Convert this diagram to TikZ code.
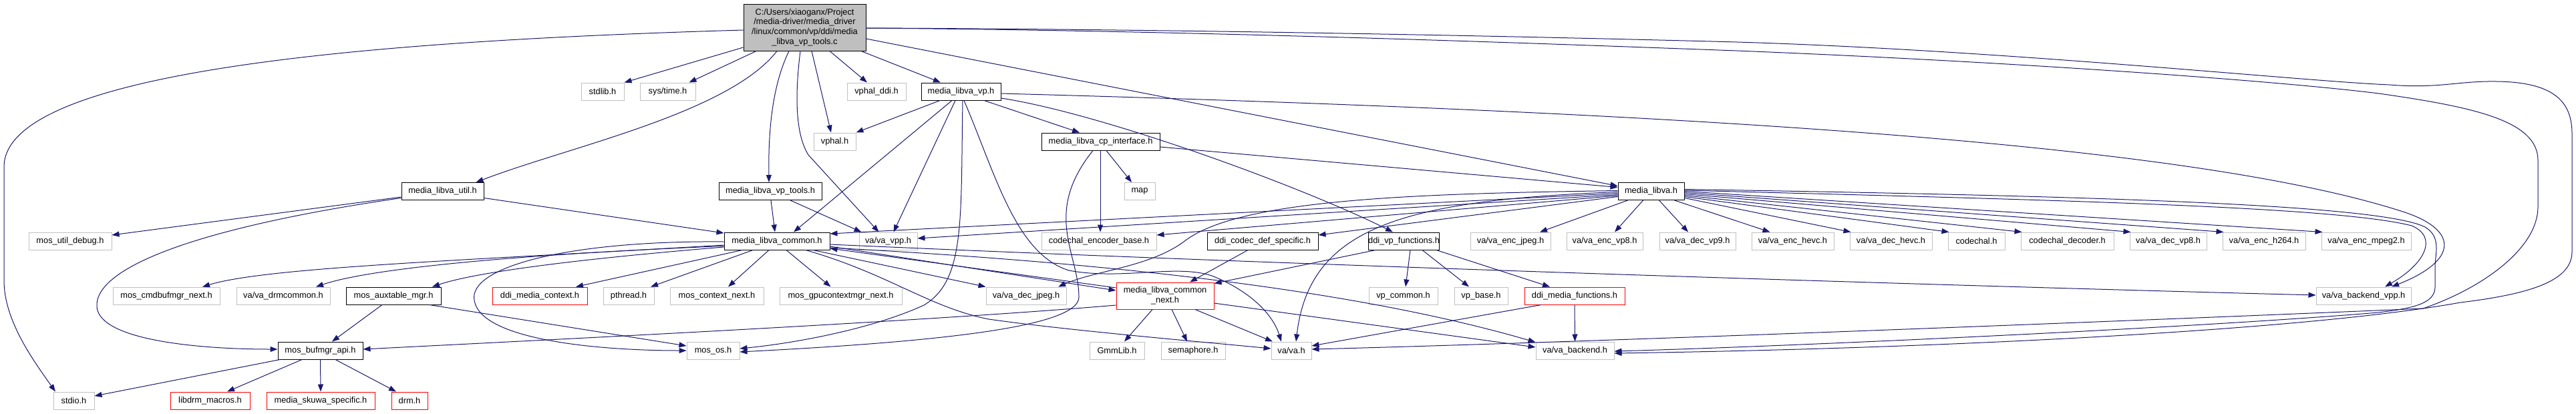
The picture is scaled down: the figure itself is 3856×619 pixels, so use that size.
\documentclass[tikz,border=0pt]{standalone}
\usepackage{fontspec}
\setmainfont{Liberation Sans}
\usetikzlibrary{arrows.meta}
\definecolor{edgecol}{HTML}{191970}
\definecolor{extgray}{HTML}{C0C0C0}
\definecolor{maingray}{HTML}{BFBFBF}
\begin{document}
\begin{tikzpicture}[x=1pt,y=-1pt,
  box/.style={rectangle, inner sep=0pt, minimum height=26pt, fill=white, line width=1pt, font=\fontsize{12.8}{14.8}\selectfont, align=center},
  ext/.style={box, draw=extgray},
  doc/.style={box, draw=black},
  redb/.style={box, draw=red},
  mainnode/.style={box, draw=black, fill=maingray, minimum height=70pt},
  edge/.style={draw=edgecol, line width=1pt, -{Triangle[length=11pt,width=8pt]}}]
\useasboundingbox (0,0) rectangle (3856,619);
% nodes
\node[mainnode, minimum width=183pt] (main) at (1204.5,41) {C:/Users/xiaoganx/Project\\/media-driver/media\_driver\\/linux/common/vp/ddi/media\\\_libva\_vp\_tools.c};
\node[ext, minimum width=64pt] (stdlib) at (902,137) {stdlib.h};
\node[ext, minimum width=83pt] (systime) at (999.5,137) {sys/time.h};
\node[ext, minimum width=88pt] (vphalddi) at (1312,137) {vphal\_ddi.h};
\node[doc, minimum width=119pt] (libvavp) at (1438.5,137) {media\_libva\_vp.h};
\node[ext, minimum width=63pt] (vphal) at (1249.5,212) {vphal.h};
\node[doc, minimum width=177pt] (cpif) at (1647.5,212) {media\_libva\_cp\_interface.h};
\node[doc, minimum width=123pt] (util) at (662.5,286.5) {media\_libva\_util.h};
\node[doc, minimum width=154pt] (vptoolsh) at (1153,286.5) {media\_libva\_vp\_tools.h};
\node[ext, minimum width=46pt] (map) at (1706,286.5) {map};
\node[doc, minimum width=99pt] (libva) at (2471.5,286.5) {media\_libva.h};
\node[ext, minimum width=124pt] (utildebug) at (105,361) {mos\_util\_debug.h};
\node[doc, minimum width=158pt] (common) at (1163,361) {media\_libva\_common.h};
\node[ext, minimum width=87pt] (vavpp) at (1329.5,361) {va/va\_vpp.h};
\node[ext, minimum width=172pt] (encbase) at (1645,361) {codechal\_encoder\_base.h};
\node[doc, minimum width=166pt] (codecdef) at (1890,361) {ddi\_codec\_def\_specific.h};
\node[doc, minimum width=105pt] (ddivp) at (2101.5,361) {ddi\_vp\_functions.h};
\node[ext, minimum width=120pt] (encjpeg) at (2261,361) {va/va\_enc\_jpeg.h};
\node[ext, minimum width=114pt] (encvp8) at (2402,361) {va/va\_enc\_vp8.h};
\node[ext, minimum width=114pt] (decvp9) at (2541,361) {va/va\_dec\_vp9.h};
\node[ext, minimum width=123pt] (enchevc) at (2683.5,361) {va/va\_enc\_hevc.h};
\node[ext, minimum width=123pt] (dechevc) at (2830.5,361) {va/va\_dec\_hevc.h};
\node[ext, minimum width=85pt] (codechal) at (2958.5,361) {codechal.h};
\node[ext, minimum width=139pt] (codecdec) at (3094.5,361) {codechal\_decoder.h};
\node[ext, minimum width=115pt] (decvp8) at (3245.5,361) {va/va\_dec\_vp8.h};
\node[ext, minimum width=124pt] (ench264) at (3389,361) {va/va\_enc\_h264.h};
\node[ext, minimum width=134pt] (encmpeg2) at (3542,361) {va/va\_enc\_mpeg2.h};
\node[ext, minimum width=160pt] (cmdbuf) at (249,443) {mos\_cmdbufmgr\_next.h};
\node[ext, minimum width=140pt] (drmcommon) at (424,443) {va/va\_drmcommon.h};
\node[doc, minimum width=142pt] (auxtable) at (589,443) {mos\_auxtable\_mgr.h};
\node[redb, minimum width=142pt] (mediactx) at (808,443) {ddi\_media\_context.h};
\node[ext, minimum width=76pt] (pthread) at (941,443) {pthread.h};
\node[ext, minimum width=140pt] (ctxnext) at (1073,443) {mos\_context\_next.h};
\node[ext, minimum width=183pt] (gpuctx) at (1258.5,443) {mos\_gpucontextmgr\_next.h};
\node[ext, minimum width=120pt] (decjpeg) at (1536,443) {va/va\_dec\_jpeg.h};
\node[redb, minimum width=146pt, minimum height=40pt] (commonnext) at (1744,443) {media\_libva\_common\\\_next.h};
\node[ext, minimum width=103pt] (vpcommon) at (2100.5,443) {vp\_common.h};
\node[ext, minimum width=80pt] (vpbase) at (2217,443) {vp\_base.h};
\node[redb, minimum width=150pt] (mediafunc) at (2357,443) {ddi\_media\_functions.h};
\node[ext, minimum width=142pt] (backendvpp) at (3538,443) {va/va\_backend\_vpp.h};
\node[doc, minimum width=127pt] (bufmgr) at (479.5,525) {mos\_bufmgr\_api.h};
\node[ext, minimum width=79pt] (mosos) at (1067.5,525) {mos\_os.h};
\node[ext, minimum width=82pt] (gmmlib) at (1672,525) {GmmLib.h};
\node[ext, minimum width=96pt] (semaphore) at (1786,525) {semaphore.h};
\node[ext, minimum width=60pt] (vah) at (1933,525) {va/va.h};
\node[ext, minimum width=117pt] (backend) at (2357.5,525) {va/va\_backend.h};
\node[ext, minimum width=61pt] (stdio) at (110.5,600) {stdio.h};
\node[redb, minimum width=119pt] (libdrm) at (314.5,600) {libdrm\_macros.h};
\node[redb, minimum width=162pt] (skuwa) at (480,600) {media\_skuwa\_specific.h};
\node[redb, minimum width=54pt] (drm) at (613,600) {drm.h};
% main edges
\draw[edge] ([yshift=-4pt]main.west) .. controls (600,60) and (6,100) .. (6,250) -- (6,420) .. controls (6,480) and (50,540) .. ([xshift=-27.5pt]stdio.north);
\draw[edge] ([yshift=-30pt]main.west) -- (stdlib.north east);
\draw[edge] ([xshift=-72.5pt]main.south) -- ([xshift=32pt]systime.north);
\draw[edge] ([xshift=-41.5pt]main.south) .. controls (1090,170) and (850,220) .. ([xshift=50pt]util.north);
\draw[edge] ([xshift=-23.5pt]main.south) .. controls (1155,130) and (1150,200) .. ([xshift=-2pt]vptoolsh.north);
\draw[edge] ([xshift=-6.5pt]main.south) .. controls (1190,140) and (1190,200) .. (1210,232) -- ([xshift=-14pt]vavpp.north);
\draw[edge] ([xshift=10.5pt]main.south) -- ([xshift=-5.5pt]vphal.north);
\draw[edge] ([xshift=37.5pt]main.south) -- ([xshift=-14pt]vphalddi.north);
\draw[edge] ([xshift=84.5pt]main.south) -- ([xshift=-30.5pt]libvavp.north);
\draw[edge] ([yshift=-17pt]main.east) -- ([yshift=8pt]libva.west);
\draw[edge] ([yshift=-1pt]main.east) .. controls (1800,46) and (2300,65) .. (2600,76) .. controls (3000,92) and (3400,120) .. (3561,140) .. controls (3700,160) and (3799,180) .. (3799,240) -- (3799,310) .. controls (3799,370) and (3720,430) .. (3627,462) .. controls (3300,476) and (2400,512) .. ([yshift=2pt]vah.east);
\draw[edge] ([yshift=-1pt]main.east) .. controls (1800,44) and (2300,55) .. (2600,63) .. controls (3000,75) and (3450,122) .. (3577,127) .. controls (3650,133) and (3680,121) .. (3737,122) .. controls (3820,123) and (3850,150) .. (3850,200) -- (3850,377) .. controls (3850,420) and (3790,440) .. (3683,453) .. controls (3450,495) and (2900,522) .. ([yshift=-4pt]backend.east);
% media_libva_vp.h
\draw[edge] ([xshift=-31.5pt]libvavp.south) -- (vphal.north east);
\draw[edge] ([xshift=-13.5pt]libvavp.south) -- ([xshift=25pt]common.north);
\draw[edge] ([xshift=-8.5pt]libvavp.south) -- ([xshift=8pt]vavpp.north);
\draw[edge] ([xshift=2.5pt]libvavp.south) .. controls (1438,330) and (1445,420) .. (1383,457) .. controls (1300,495) and (1180,515) .. ([yshift=3pt]mosos.east);
\draw[edge] ([xshift=4.5pt]libvavp.south) .. controls (1490,260) and (1520,380) .. (1600,405) .. controls (1680,420) and (1760,395) .. (1814,413) .. controls (1870,435) and (1905,470) .. ([xshift=-15pt]vah.north);
\draw[edge] ([xshift=34.5pt]libvavp.south) -- ([xshift=-31.5pt]cpif.north);
\draw[edge] ([yshift=-10pt]libvavp.east) .. controls (1650,170) and (1950,280) .. ([xshift=-16.5pt]ddivp.north);
\draw[edge] ([yshift=-3pt]libvavp.east) .. controls (2600,170) and (3300,220) .. (3600,318) .. controls (3680,345) and (3680,390) .. ([xshift=42pt]backendvpp.north);
% cp interface
\draw[edge] ([xshift=8.5pt]cpif.south) -- ([xshift=-12pt]map.north);
\draw[edge] ([xshift=-0.5pt]cpif.south) -- ([xshift=2pt]encbase.north);
\draw[edge] ([xshift=-11.5pt]cpif.south) .. controls (1560,320) and (1615,380) .. (1615,445) .. controls (1615,490) and (1400,512) .. ([yshift=-2pt]mosos.east);
\draw[edge] ([yshift=-8pt]cpif.east) -- ([yshift=6pt]libva.west);
% util
\draw[edge] ([yshift=-8.5pt]util.west) -- ([yshift=9pt]utildebug.east);
\draw[edge] ([yshift=-10pt]util.west) .. controls (300,340) and (140,400) .. (145,460) .. controls (150,510) and (300,523) .. ([yshift=2pt]bufmgr.west);
\draw[edge] ([yshift=-10pt]util.east) -- ([yshift=12pt]common.west);
% vp tools h
\draw[edge] ([xshift=1pt]vptoolsh.south) -- ([xshift=-3pt]common.north);
\draw[edge] ([xshift=30pt]vptoolsh.south) -- ([xshift=-40pt]vavpp.north);
% common
\draw[edge] ([yshift=-6pt]common.west) .. controls (700,390) and (400,400) .. ([xshift=54pt]cmdbuf.north);
\draw[edge] ([yshift=-7.5pt]common.west) .. controls (800,380) and (560,400) .. ([xshift=49pt]drmcommon.north);
\draw[edge] ([yshift=-9pt]common.west) .. controls (900,385) and (720,405) .. ([xshift=58pt]auxtable.north);
\draw[edge] ([yshift=-1pt]common.west) .. controls (850,360) and (700,400) .. (710,450) .. controls (720,510) and (900,525) .. (mosos.west);
\draw[edge] ([xshift=-52pt]common.south) -- ([xshift=54pt]mediactx.north);
\draw[edge] ([xshift=-36pt]common.south) -- ([xshift=33pt]pthread.north);
\draw[edge] ([xshift=-12pt]common.south) -- ([xshift=17pt]ctxnext.north);
\draw[edge] ([xshift=14pt]common.south) -- ([xshift=-15pt]gpuctx.north);
\draw[edge] ([xshift=43pt]common.south) .. controls (1330,410) and (1390,460) .. (1480,478) .. controls (1600,495) and (1800,512) .. ([yshift=3pt]vah.west);
\draw[edge] ([xshift=54pt]common.south) -- (decjpeg.north west);
\draw[edge] ([yshift=-5pt]common.east) .. controls (2000,400) and (3000,430) .. ([yshift=1pt]backendvpp.west);
\draw[edge] ([yshift=-8pt]common.east) -- ([yshift=8pt]commonnext.west);
\draw[edge] ([yshift=-10pt]common.east) .. controls (1700,395) and (2050,440) .. ([yshift=-1pt]backend.north west);
\draw[edge] ([yshift=12pt]commonnext.west) -- ([yshift=-11pt]common.east);
% media_libva.h left fan
\draw[edge] ([yshift=-3pt]libva.west) -- ([yshift=11pt]common.east);
\draw[edge] ([yshift=-5pt]libva.west) -- ([yshift=4pt]vavpp.east);
\draw[edge] ([yshift=-6.5pt]libva.west) -- ([yshift=9pt]encbase.east);
\draw[edge] ([yshift=-8pt]libva.west) -- ([yshift=9pt]codecdef.east);
\draw[edge] ([yshift=1pt]libva.west) .. controls (2100,290) and (1850,300) .. (1772,362) .. controls (1720,400) and (1640,405) .. ([xshift=48pt]decjpeg.north);
\draw[edge] ([yshift=-1pt]libva.west) .. controls (2100,300) and (1960,340) .. ([xshift=7pt]vah.north);
% media_libva.h bottom and right fan
\draw[edge] ([xshift=-35pt]libva.south) -- ([xshift=44pt]encjpeg.north);
\draw[edge] ([xshift=-12pt]libva.south) -- ([xshift=15pt]encvp8.north);
\draw[edge] ([xshift=12pt]libva.south) -- ([xshift=-14pt]decvp9.north);
\draw[edge] ([xshift=35pt]libva.south) -- ([xshift=-34pt]enchevc.north);
\draw[edge] ([yshift=-10pt]libva.east) -- ([xshift=2pt]dechevc.north west);
\draw[edge] ([yshift=-8pt]libva.east) -- ([xshift=2pt]codechal.north west);
\draw[edge] ([yshift=-6pt]libva.east) -- ([xshift=2pt]codecdec.north west);
\draw[edge] ([yshift=-4pt]libva.east) -- ([xshift=2pt]decvp8.north west);
\draw[edge] ([yshift=-2pt]libva.east) -- ([xshift=2pt]ench264.north west);
\draw[edge] ([yshift=0pt]libva.east) -- ([xshift=2pt]encmpeg2.north west);
\draw[edge] ([yshift=1.5pt]libva.east) .. controls (3100,300) and (3500,310) .. (3610,338) .. controls (3650,355) and (3630,395) .. ([xshift=32pt]backendvpp.north);
\draw[edge] ([yshift=3pt]libva.east) .. controls (3100,293) and (3560,305) .. (3630,340) .. controls (3655,355) and (3645,380) .. (3645,400) -- (3645,430) .. controls (3645,455) and (3610,462) .. (3560,468) .. controls (3300,490) and (2700,518) .. ([yshift=-1pt]backend.east);
% ddi_vp_functions
\draw[edge] ([xshift=-42.5pt]ddivp.south) -- ([yshift=-2pt]commonnext.north east);
\draw[edge] ([xshift=9.5pt]ddivp.south) -- ([xshift=3.5pt]vpcommon.north);
\draw[edge] ([xshift=27.5pt]ddivp.south) -- ([xshift=-18pt]vpbase.north);
\draw[edge] ([xshift=48.5pt]ddivp.south) -- ([xshift=-37pt]mediafunc.north);
% codec def
\draw[edge] ([xshift=-22pt]codecdef.south) -- ([xshift=37pt]commonnext.north);
% media functions
\draw[edge] ([xshift=-50pt]mediafunc.south) -- ([yshift=7pt]vah.east);
\draw[edge] (mediafunc.south) -- (backend.north);
% common next
\draw[edge] ([xshift=-19pt]commonnext.south) -- ([xshift=11pt]gmmlib.north);
\draw[edge] ([xshift=10pt]commonnext.south) -- ([xshift=-9pt]semaphore.north);
\draw[edge] ([xshift=45pt]commonnext.south) -- ([xshift=-28pt]vah.north);
\draw[edge] ([yshift=-11pt]commonnext.east) -- ([yshift=5pt]backend.west);
\draw[edge] ([yshift=-14pt]commonnext.west) .. controls (1400,480) and (900,505) .. ([yshift=2pt]bufmgr.east);
% auxtable
\draw[edge] ([xshift=-17pt]auxtable.south) -- ([xshift=17.5pt]bufmgr.north);
\draw[edge] ([xshift=54pt]auxtable.south) -- ([yshift=7pt]mosos.west);
% bufmgr
\draw[edge] ([xshift=-60.5pt]bufmgr.south) -- ([yshift=7pt]stdio.east);
\draw[edge] ([xshift=-27.5pt]bufmgr.south) -- ([xshift=25.5pt]libdrm.north);
\draw[edge] (bufmgr.south) -- (skuwa.north);
\draw[edge] ([xshift=22.5pt]bufmgr.south) -- ([xshift=-20pt]drm.north);
\end{tikzpicture}
\end{document}
